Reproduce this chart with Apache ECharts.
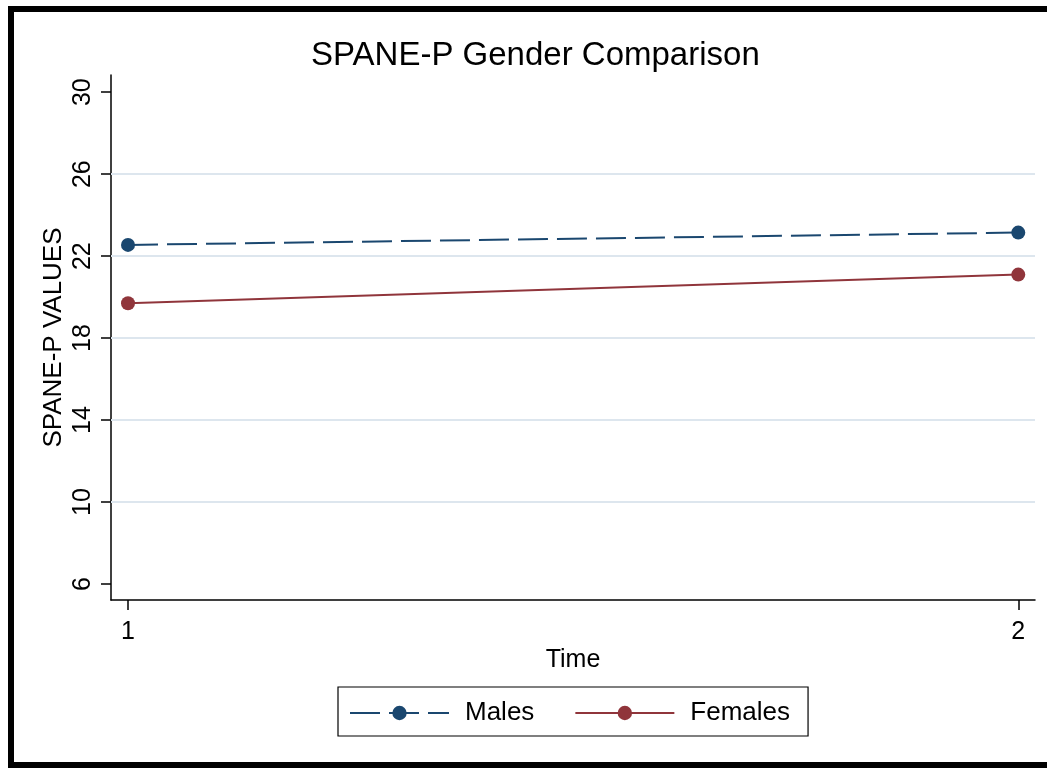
<!DOCTYPE html>
<html><head><meta charset="utf-8">
<script src="https://cdn.jsdelivr.net/npm/echarts@6/dist/echarts.min.js"></script>
<style>html,body{margin:0;padding:0;background:#fff}#c{width:1047px;height:769px}</style>
</head><body><div id="c"></div>
<script>
var timePoints = [1, 2];
var males = [22.55, 23.15];
var females = [19.70, 21.10];
var yTicks = [6, 10, 14, 18, 22, 26, 30];
var gridValues = [10, 14, 18, 22, 26];

var FONT = '"Liberation Sans", Arial, sans-serif';
var chart = echarts.init(document.getElementById('c'));
function pairs(v){ return timePoints.map(function(t,i){ return [t, v[i]]; }); }
chart.setOption({
  animation: false,
  backgroundColor: '#fff',
  title: { text: 'SPANE-P Gender Comparison', left: 306, top: 34,
    textStyle: { fontFamily: FONT, fontSize: 33, fontWeight: 'normal', color: '#000' } },
  grid: { left: 111, right: 12, top: 75, bottom: 169, containLabel: false },
  legend: {
    left: 338, top: 687, padding: [13, 18, 10, 11], itemGap: 40,
    borderColor: '#000', borderWidth: 1.2,
    itemWidth: 99, itemHeight: 18,
    textStyle: { fontFamily: FONT, fontSize: 26, color: '#000', padding: [3, 0, 0, 11] },
    data: ['Males', 'Females']
  },
  xAxis: {
    type: 'value', min: 0.9809, max: 2.0188,
    name: 'Time', nameLocation: 'middle', nameGap: 48, nameMoveOverlap: false,
    nameTextStyle: { fontFamily: FONT, fontSize: 25, color: '#000' },
    axisLine: { show: true, lineStyle: { color: '#000', width: 1.5 } },
    axisTick: { show: true, length: 10, customValues: timePoints, lineStyle: { color: '#000', width: 1.5 } },
    axisLabel: { customValues: timePoints, margin: 20, fontFamily: FONT, fontSize: 25, color: '#000' },
    splitLine: { show: false }
  },
  yAxis: {
    type: 'value', min: 5.22, max: 30.84,
    name: 'SPANE-P VALUES', nameLocation: 'middle', nameGap: 44, nameRotate: 90, nameMoveOverlap: false,
    nameTextStyle: { fontFamily: FONT, fontSize: 26, color: '#000' },
    axisLine: { show: true, lineStyle: { color: '#000', width: 1.5 } },
    axisTick: { show: true, length: 10, customValues: yTicks, lineStyle: { color: '#000', width: 1.5 } },
    axisLabel: { customValues: yTicks, rotate: 90, margin: 15, fontFamily: FONT, fontSize: 25, color: '#000' },
    splitLine: { show: false }
  },
  series: [
    { name: 'Males', type: 'line', data: pairs(males), symbol: 'circle', symbolSize: 14,
      color: '#1a476f', itemStyle: { color: '#1a476f' },
      lineStyle: { color: '#1a476f', width: 2, type: [30, 9] }, z: 3,
      markLine: { silent: true, symbol: 'none', label: { show: false },
        lineStyle: { color: '#dde6ee', width: 2, type: 'solid' },
        data: gridValues.map(function(v){ return { yAxis: v }; }), z: 1 } },
    { name: 'Females', type: 'line', data: pairs(females), symbol: 'circle', symbolSize: 14,
      color: '#90353b', itemStyle: { color: '#90353b' },
      lineStyle: { color: '#90353b', width: 2, type: 'solid' }, z: 3 }
  ],
  graphic: [{ type: 'rect', shape: { x: 11, y: 9, width: 1100, height: 756 },
    style: { fill: 'none', stroke: '#000', lineWidth: 6 }, silent: true, z: 100 }]
});
</script></body></html>
